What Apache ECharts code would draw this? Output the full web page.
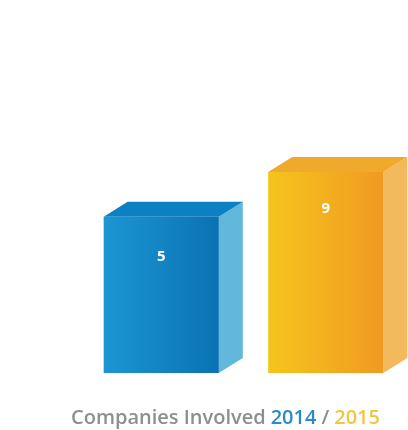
<!DOCTYPE html>
<html>
<head>
<meta charset="utf-8">
<script src="https://cdn.jsdelivr.net/npm/echarts@6/dist/echarts.min.js"></script>
<style>
html,body{margin:0;padding:0;background:#fff;}
#main{width:408px;height:430px;}
</style>
</head>
<body>
<div id="main"></div>
<script>
const categories = ['2014', '2015'];
const companies = [5, 9];
const captionLabel = 'Companies Involved';
const captionYears = ['2014', '2015'];

const AXIS_MIN = -9;
const faces = [
  {front: ['#1c96d4', '#0a72b4'], top: '#0b80c2', side: '#62b7dd'},
  {front: ['#f5c41d', '#f09a22'], top: '#f0aa2b', side: '#f2ba5c'}
];
const DX = 24, DY = 15;
const capFont = {fontSize: 20, fontFamily: 'Open Sans', fontWeight: 600};

const chart = echarts.init(document.getElementById('main'));
chart.setOption({
  backgroundColor: '#ffffff',
  animation: false,
  grid: {left: 79, width: 331, top: 105, bottom: 57},
  xAxis: {type: 'category', data: categories, show: false},
  yAxis: {type: 'value', min: AXIS_MIN, max: 15, show: false},
  title: {
    text: '{a|' + captionLabel + '} {b|' + captionYears[0] + '} {a|/} {c|' + captionYears[1] + '}',
    left: 66, top: 403,
    textStyle: {
      rich: {
        a: Object.assign({color: '#8e8e8e'}, capFont),
        b: Object.assign({color: '#2a8bc8'}, capFont),
        c: Object.assign({color: '#f3c544'}, capFont)
      }
    }
  },
  series: [{
    type: 'custom',
    data: companies.map((v, i) => [i, v]),
    renderItem: function (params, api) {
      const idx = params.dataIndex;
      const f = faces[idx];
      const topPt = api.coord([api.value(0), api.value(1)]);
      const basePt = api.coord([api.value(0), AXIS_MIN]);
      const w = api.size([1, 0])[0] * 0.7;
      const x0 = topPt[0] - w / 2, x1 = topPt[0] + w / 2;
      const yT = topPt[1], yB = basePt[1];
      return {
        type: 'group',
        children: [
          {
            type: 'polygon',
            shape: {points: [[x1, yT], [x1 + DX, yT - DY], [x1 + DX, yB - DY], [x1, yB]]},
            style: {fill: f.side}
          },
          {
            type: 'polygon',
            shape: {points: [[x0, yT], [x1, yT], [x1 + DX, yT - DY], [x0 + DX, yT - DY]]},
            style: {fill: f.top}
          },
          {
            type: 'rect',
            shape: {x: x0, y: yT, width: w, height: yB - yT},
            style: {
              fill: new echarts.graphic.LinearGradient(0, 0, 1, 0, [
                {offset: 0, color: f.front[0]},
                {offset: 1, color: f.front[1]}
              ])
            }
          },
          {
            type: 'text',
            style: {
              text: String(api.value(1)),
              x: topPt[0], y: yT + (idx === 0 ? 40 : 37),
              align: 'center', verticalAlign: 'middle',
              fill: '#ffffff', fontSize: 15, fontWeight: 'bold', fontFamily: 'Open Sans'
            }
          }
        ]
      };
    }
  }]
});
</script>
</body>
</html>
